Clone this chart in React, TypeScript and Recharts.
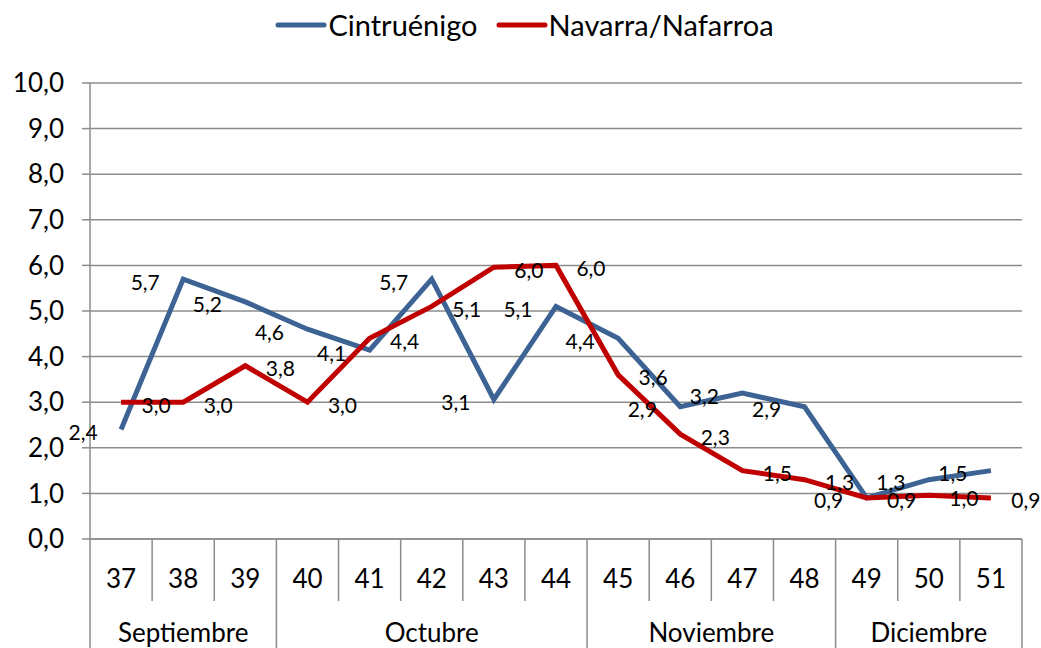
import * as React from "react";
import {
    CartesianGrid,
    LabelList,
    Legend,
    Line,
    LineChart,
    XAxis,
    YAxis,
} from "recharts";

const weeks = ["37", "38", "39", "40", "41", "42", "43", "44", "45", "46", "47", "48", "49", "50", "51"];
const cintruenigo = [2.4, 5.7, 5.2, 4.6, 4.14, 5.7, 3.06, 5.1, 4.4, 2.9, 3.2, 2.9, 0.9, 1.3, 1.5];
const navarra = [3.0, 3.0, 3.8, 3.0, 4.4, 5.1, 5.96, 6.0, 3.6, 2.3, 1.5, 1.3, 0.9, 0.96, 0.9];
const months = ["Septiembre", "Octubre", "Noviembre", "Diciembre"];
const weeksPerMonth = [3, 5, 4, 3];
const yTicks = [0, 1, 2, 3, 4, 5, 6, 7, 8, 9, 10];

const BLUE = "#3C6394";
const RED = "#C00000";
const GRID = "#8C8C8C";
const FONT = "Lato, 'Open Sans', sans-serif";

const WIDTH = 1041;
const HEIGHT = 648;
const PLOT_LEFT = 90;
const PLOT_RIGHT = 1022;
const PLOT_TOP = 83;
const PLOT_BOTTOM = 539;
const STEP = (PLOT_RIGHT - PLOT_LEFT) / weeks.length;

const data = weeks.map((week, i) => ({
    week,
    cintruenigo: cintruenigo[i],
    navarra: navarra[i],
}));

// first week index of each month group
const monthStarts = weeksPerMonth.reduce<number[]>((acc, n, i) => {
    acc.push(i === 0 ? 0 : acc[i - 1] + weeksPerMonth[i - 1]);
    return acc;
}, []);

const fmt = (v: number) => v.toFixed(1).replace(".", ",");

const WeekTick = (props: any) => {
    const { x, payload } = props;
    const index: number = payload.index ?? props.index;
    const left = x - STEP / 2;
    const group = monthStarts.indexOf(index);
    const isLast = index === weeks.length - 1;
    return (
        <g>
            <line
                stroke={GRID}
                strokeWidth={1.5}
                x1={left}
                x2={left}
                y1={PLOT_BOTTOM}
                y2={group >= 0 ? HEIGHT : 601}
            />
            {isLast && (
                <line
                    stroke={GRID}
                    strokeWidth={1.5}
                    x1={x + STEP / 2}
                    x2={x + STEP / 2}
                    y1={PLOT_BOTTOM}
                    y2={HEIGHT}
                />
            )}
            <text
                dominantBaseline="central"
                fill="#000"
                fontFamily={FONT}
                fontSize={26}
                textAnchor="middle"
                x={x}
                y={578}
            >
                {payload.value}
            </text>
            {group >= 0 && (
                <text
                    dominantBaseline="central"
                    fill="#000"
                    fontFamily={FONT}
                    fontSize={26}
                    textAnchor="middle"
                    x={left + (weeksPerMonth[group] * STEP) / 2}
                    y={632}
                >
                    {months[group]}
                </text>
            )}
        </g>
    );
};

const makeLabel = (dx: number) => (props: any) => {
    const { x, y, value } = props;
    return (
        <text
            dominantBaseline="central"
            fill="#000"
            fontFamily={FONT}
            fontSize={21}
            textAnchor="middle"
            x={x + dx}
            y={y + 2}
        >
            {fmt(value)}
        </text>
    );
};

const legendItems = [
    { name: "Cintruénigo", color: BLUE },
    { name: "Navarra/Nafarroa", color: RED },
];

const ChartLegend = () => (
    <div
        style={{
            display: "flex",
            fontFamily: FONT,
            fontSize: 29,
            justifyContent: "center",
            gap: 18,
            width: WIDTH,
            paddingLeft: 8,
            boxSizing: "border-box",
        }}
    >
        {legendItems.map((item) => (
            <div key={item.name} style={{ alignItems: "center", display: "flex" }}>
                <svg height={10} width={52}>
                    <line
                        stroke={item.color}
                        strokeLinecap="round"
                        strokeWidth={5}
                        x1={3}
                        x2={49}
                        y1={5}
                        y2={5}
                    />
                </svg>
                <span style={{ marginLeft: 1 }}>{item.name}</span>
            </div>
        ))}
    </div>
);

export default function App() {
    return (
        <div style={{ left: 0, position: "absolute", top: 0 }}>
            <LineChart
                data={data}
                height={HEIGHT}
                margin={{ top: PLOT_TOP, right: WIDTH - PLOT_RIGHT, left: 0, bottom: 0 }}
                width={WIDTH}
            >
                <CartesianGrid stroke={GRID} strokeWidth={1.5} vertical={false} />
                <XAxis
                    axisLine={{ stroke: GRID, strokeWidth: 1.5 }}
                    dataKey="week"
                    height={HEIGHT - PLOT_BOTTOM}
                    interval={0}
                    padding={{ left: STEP / 2, right: STEP / 2 }}
                    tick={<WeekTick />}
                    tickLine={false}
                />
                <YAxis
                    axisLine={{ stroke: GRID, strokeWidth: 1.5 }}
                    domain={[0, 10]}
                    tick={{ fill: "#000", fontFamily: FONT, fontSize: 26 }}
                    tickFormatter={fmt}
                    tickLine={{ stroke: GRID, strokeWidth: 1.5 }}
                    tickMargin={18}
                    tickSize={8}
                    ticks={yTicks}
                    width={PLOT_LEFT}
                />
                <Legend
                    align="center"
                    content={<ChartLegend />}
                    layout="vertical"
                    verticalAlign="middle"
                    wrapperStyle={{ left: 0, top: 7, width: WIDTH }}
                />
                <Line
                    dataKey="cintruenigo"
                    dot={false}
                    isAnimationActive={false}
                    name="Cintruénigo"
                    stroke={BLUE}
                    strokeWidth={5}
                    type="linear"
                >
                    <LabelList content={makeLabel(-38)} dataKey="cintruenigo" />
                </Line>
                <Line
                    dataKey="navarra"
                    dot={false}
                    isAnimationActive={false}
                    name="Navarra/Nafarroa"
                    stroke={RED}
                    strokeWidth={5}
                    type="linear"
                >
                    <LabelList content={makeLabel(35)} dataKey="navarra" />
                </Line>
            </LineChart>
        </div>
    );
}
